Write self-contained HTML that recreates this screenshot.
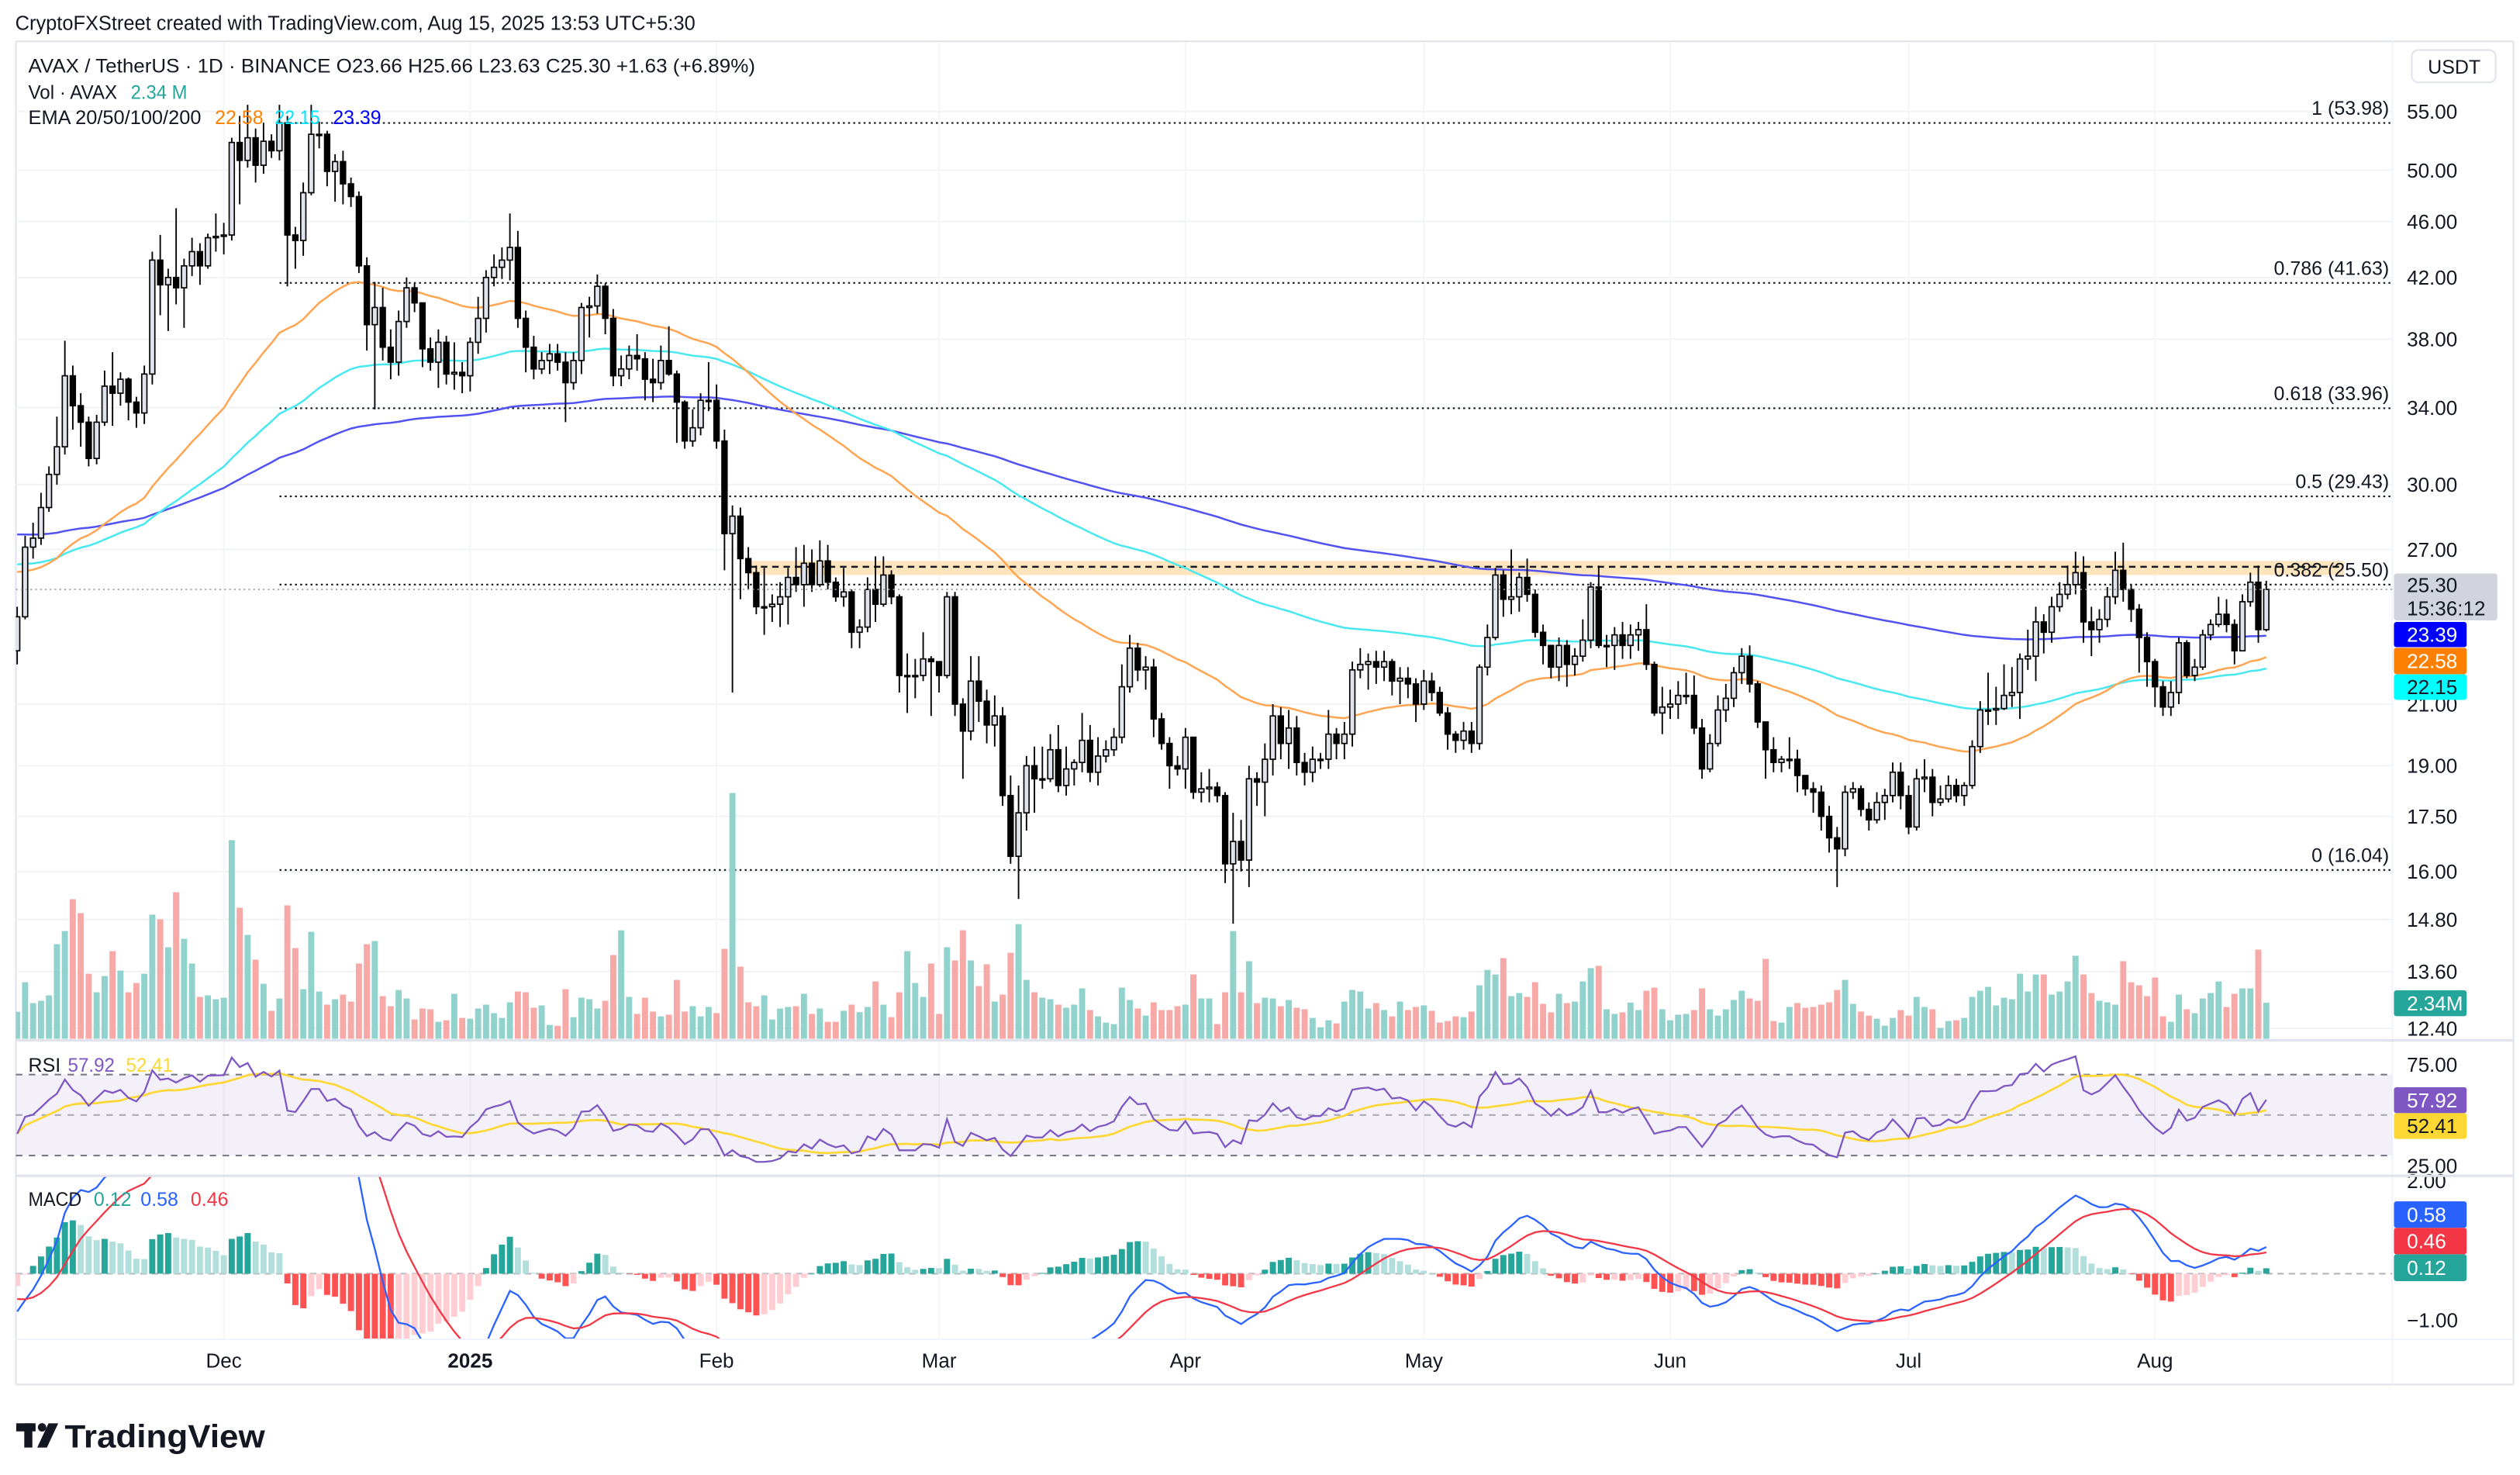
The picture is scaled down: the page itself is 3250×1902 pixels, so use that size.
<!DOCTYPE html>
<html><head><meta charset="utf-8"><title>AVAX / TetherUS chart</title>
<style>
html,body{margin:0;padding:0;background:#fff;}
svg{display:block;font-family:"Liberation Sans",Arial,sans-serif;}
</style></head>
<body>
<svg id="chart" width="3250" height="1902" viewBox="0 0 1560 913" xmlns="http://www.w3.org/2000/svg">
  <defs>
    <clipPath id="clipPrice"><rect x="9.8" y="26" width="1471" height="618"/></clipPath>
    <clipPath id="clipRsi"><rect x="9.8" y="644.5" width="1471" height="83"/></clipPath>
    <clipPath id="clipMacd"><rect x="9.8" y="728.5" width="1471" height="100.5"/></clipPath>
  </defs>
  <rect x="0" y="0" width="1560" height="913" fill="#ffffff"/>
  <text x="9.4" y="18.4" font-size="12.5" fill="#131722" textLength="421" lengthAdjust="spacingAndGlyphs">CryptoFXStreet created with TradingView.com, Aug 15, 2025 13:53 UTC+5:30</text>
  <g fill="none" stroke="#e0e3eb" stroke-width="1">
    <line x1="9.8" y1="25.6" x2="1556" y2="25.6"/>
    <line x1="9.8" y1="25.6" x2="9.8" y2="857"/>
    <line x1="1556" y1="25.6" x2="1556" y2="857"/>
    <line x1="9.8" y1="857" x2="1556" y2="857"/>
    <line x1="1481" y1="25.6" x2="1481" y2="857" stroke="#f0f3fa"/>
  </g>
  <g id="gGrid"></g>
  <g id="gPrice" clip-path="url(#clipPrice)"></g>
  <g id="gRsi" clip-path="url(#clipRsi)"></g>
  <g id="gMacd" clip-path="url(#clipMacd)"></g>
  <g id="gAxis"></g>
  <line x1="9.8" y1="644" x2="1556" y2="644" stroke="#e0e3eb" stroke-width="1.5"/>
  <line x1="9.8" y1="727.8" x2="1556" y2="727.8" stroke="#e0e3eb" stroke-width="1.5"/>
  <line x1="9.8" y1="829" x2="1556" y2="829" stroke="#f0f3fa" stroke-width="1"/>

  <g font-size="12" fill="#131722">
    <text x="17.5" y="44.8" textLength="450" lengthAdjust="spacingAndGlyphs">AVAX / TetherUS · 1D · BINANCE  O23.66  H25.66  L23.63  C25.30  +1.63 (+6.89%)</text>
    <text x="17.5" y="61.3" textLength="55" lengthAdjust="spacingAndGlyphs">Vol · AVAX</text>
    <text x="80.9" y="61.3" fill="#26a69a" textLength="35" lengthAdjust="spacingAndGlyphs">2.34 M</text>
    <text x="17.5" y="76.8" textLength="107" lengthAdjust="spacingAndGlyphs">EMA 20/50/100/200</text>
    <text x="133" y="76.8" fill="#ff8000" textLength="30" lengthAdjust="spacingAndGlyphs">22.58</text>
    <text x="170" y="76.8" fill="#00e5ff" textLength="28" lengthAdjust="spacingAndGlyphs">22.15</text>
    <text x="206" y="76.8" fill="#0000ff" textLength="30" lengthAdjust="spacingAndGlyphs">23.39</text>
  </g>
  <g font-size="12">
    <text x="17.5" y="663.3" fill="#131722">RSI</text>
    <text x="42" y="663.3" fill="#7e57c2" textLength="29" lengthAdjust="spacingAndGlyphs">57.92</text>
    <text x="78" y="663.3" fill="#fdd835" textLength="29" lengthAdjust="spacingAndGlyphs">52.41</text>
  </g>
  <g font-size="12">
    <text x="17.5" y="746.5" fill="#131722" textLength="33" lengthAdjust="spacingAndGlyphs">MACD</text>
    <text x="58" y="746.5" fill="#26a69a">0.12</text>
    <text x="87" y="746.5" fill="#2962ff">0.58</text>
    <text x="118" y="746.5" fill="#f23645">0.46</text>
  </g>
  <g>
    <rect x="1493" y="31" width="52" height="20" rx="4" fill="#ffffff" stroke="#e0e3eb"/>
    <text x="1503" y="45.5" font-size="12" fill="#131722">USDT</text>
  </g>
  <g fill="#131722">
    <rect x="10" y="881" width="12" height="5" />
    <rect x="15" y="881" width="5" height="15" />
    <circle cx="26" cy="883.5" r="2.6"/>
    <polygon points="30,881 36,881 29,896 23,896"/>
    <text x="40" y="896" font-size="20" font-weight="bold" textLength="124" lengthAdjust="spacingAndGlyphs">TradingView</text>
  </g>
</svg>
<script>
// ---------- data ----------
const firstOpen = 22.9;
const closes = [24.2,27.1,27.5,28.9,30.5,31.9,35.8,34.1,33.2,31.3,
33.2,35.2,34.8,35.6,34.3,33.7,35.9,43.2,41.5,42.0,
41.3,42.8,43.8,42.8,44.8,44.9,45.0,52.3,50.8,52.7,
50.4,52.4,51.6,54.0,45.0,44.6,48.2,53.0,53.0,49.9,
50.7,48.9,47.9,42.8,38.9,40.0,37.5,36.6,39.1,41.3,
40.3,37.4,36.6,37.8,35.9,36.0,35.8,37.8,39.3,42.0,
42.7,43.2,44.1,39.3,37.5,36.2,36.7,37.1,36.6,35.4,
36.7,40.0,40.1,41.4,39.3,35.8,36.2,37.0,36.8,35.6,
35.4,36.7,35.9,34.3,32.2,32.9,34.4,34.4,32.2,27.7,
28.5,26.6,26.0,24.6,24.6,24.7,25.0,25.8,25.5,26.4,
25.5,26.5,25.6,25.0,25.2,23.6,23.8,25.3,24.7,25.9,
25.0,22.0,22.0,22.0,22.6,22.5,22.0,25.0,21.0,20.1,
21.8,21.1,20.3,20.6,18.1,16.4,17.6,19.0,18.6,18.6,
19.5,18.4,18.9,19.1,19.8,18.8,19.3,19.5,19.9,21.6,
23.0,22.2,22.3,20.5,19.7,19.0,18.9,19.9,18.2,18.3,
18.35,18.1,16.2,16.8,16.3,18.6,18.5,19.2,20.6,19.7,
20.2,19.1,18.8,19.2,19.2,20.0,19.7,20.0,22.2,22.4,
22.5,22.3,22.5,21.8,21.9,21.7,21.0,21.8,21.4,20.7,
20.0,19.8,20.1,19.7,22.3,23.4,25.9,24.9,25.0,25.8,
25.1,23.6,23.1,22.3,23.1,22.4,22.7,23.3,25.4,23.1,
23.1,23.5,23.1,23.5,23.7,22.4,20.7,20.9,21.0,21.3,
21.3,20.2,18.9,19.7,20.8,21.2,22.1,22.7,21.7,20.4,
19.5,19.1,19.2,19.2,18.7,18.3,18.2,17.5,16.9,16.6,
18.2,18.3,17.7,17.4,17.9,18.1,18.8,18.1,17.2,18.6,
18.65,17.9,18.0,18.4,18.1,18.4,19.6,20.8,20.8,20.85,
21.3,21.4,22.6,22.7,24.0,23.6,24.6,25.1,25.5,26.0,
24.0,23.7,24.1,25.0,26.1,25.3,24.5,23.4,22.5,21.6,
20.9,21.4,23.2,22.0,22.3,23.5,23.9,24.3,23.9,22.9,
24.8,25.6,23.7,25.30];
const highs = [24.6,27.6,28.2,29.6,30.9,33.5,37.9,36.4,34.8,33.5,
33.6,36.1,37.2,36.0,35.7,34.6,36.4,43.8,45.0,42.6,
47.0,43.3,44.8,44.4,45.1,46.6,45.9,52.7,54.6,55.6,
53.5,54.0,53.0,55.6,54.6,45.6,49.0,55.6,54.1,53.3,
51.3,51.6,49.4,48.3,43.4,41.7,41.3,38.6,39.8,42.0,
41.6,40.3,38.1,38.6,38.2,37.8,36.6,38.1,40.7,42.5,
43.6,44.1,46.6,45.3,39.8,38.2,37.2,37.7,37.7,37.2,
37.2,40.3,40.7,42.2,41.6,39.9,37.0,37.6,38.3,37.2,
36.8,37.6,38.8,36.1,34.4,33.9,34.8,36.6,35.3,32.8,
29.0,28.9,27.1,26.3,26.2,25.1,25.6,26.2,27.1,27.2,
27.0,27.4,27.2,25.8,26.2,25.3,24.1,25.8,26.7,26.7,
26.1,25.1,22.8,22.6,23.6,22.7,22.5,25.2,25.2,21.2,
22.7,22.7,21.5,21.3,20.9,18.7,18.4,19.3,19.6,19.6,
20.0,20.3,19.6,19.2,20.7,20.3,19.9,19.8,20.2,22.4,
23.5,23.2,22.7,22.6,20.7,19.9,19.3,20.2,19.9,18.8,
18.9,18.5,18.2,17.6,17.4,19.0,18.8,19.7,21.0,20.9,
20.8,20.6,19.4,19.6,19.4,20.8,20.2,20.4,22.5,23.0,
22.8,22.9,22.9,22.6,22.3,22.3,21.9,22.2,22.1,21.6,
20.9,20.1,20.4,20.4,22.4,23.9,26.2,26.1,27.0,26.0,
26.6,25.3,23.9,23.1,23.4,23.3,23.0,24.1,25.6,26.3,
23.5,23.8,24.0,23.9,24.0,24.7,22.5,21.6,21.5,21.8,
22.1,22.0,20.5,20.0,21.3,21.7,22.3,23.0,23.1,21.8,
20.4,19.9,19.3,19.9,19.5,18.7,18.5,18.4,17.8,17.2,
18.4,18.5,18.4,17.9,18.2,18.3,19.1,19.1,18.4,18.9,
19.2,18.9,18.4,18.7,18.6,18.5,19.8,21.1,22.1,21.6,
22.4,22.3,22.8,23.7,24.6,24.3,25.0,25.6,26.3,26.9,
26.7,24.6,24.5,25.4,26.9,27.3,25.5,24.7,23.6,22.6,
21.8,21.8,23.4,23.3,22.6,23.7,24.1,25.0,24.9,24.1,
25.1,26.0,26.3,25.66];
const lows = [22.4,24.1,26.6,27.2,28.7,30.0,31.5,32.8,31.9,30.9,
31.0,33.0,33.0,34.1,33.3,32.9,33.1,35.3,39.5,38.5,
40.2,38.7,42.1,41.5,42.6,43.8,43.6,44.6,47.3,50.2,
49.0,49.7,51.0,50.8,41.4,42.6,43.5,48.0,51.8,48.7,
47.5,47.3,47.1,42.3,37.3,33.9,36.7,35.6,35.8,38.7,
39.7,36.3,36.1,35.1,35.3,35.0,34.8,34.9,37.1,38.4,
41.4,41.9,41.8,38.7,36.0,35.6,35.9,35.9,36.1,33.2,
35.0,35.9,38.1,39.6,38.3,35.2,35.2,35.6,36.1,34.4,
34.3,35.0,35.8,32.1,31.8,31.9,32.5,33.8,31.8,26.1,
21.4,24.9,25.3,24.3,23.5,24.0,23.8,23.9,25.2,24.6,
25.2,25.4,25.3,24.8,24.6,23.0,23.0,23.6,24.0,24.6,
24.7,21.4,20.7,21.2,21.8,20.6,21.4,21.9,20.6,18.6,
19.8,20.4,19.7,19.6,17.8,16.2,15.3,17.1,17.6,18.3,
18.5,18.2,18.1,18.4,18.8,18.5,18.4,19.1,19.3,19.7,
21.4,21.8,21.5,19.9,19.5,18.3,18.7,18.3,18.0,17.9,
17.9,17.9,15.7,14.7,16.0,15.6,17.8,17.5,18.7,19.2,
18.9,18.7,18.4,18.5,18.9,18.9,19.2,19.2,19.6,21.9,
21.5,21.7,21.8,21.3,21.0,21.2,20.4,20.8,21.1,20.6,
19.5,19.4,19.5,19.4,19.5,22.0,23.3,24.2,24.3,24.4,
24.8,23.4,22.4,21.9,21.8,21.6,22.0,22.5,23.0,23.0,
22.3,22.2,22.6,22.6,22.9,22.2,20.6,20.0,20.5,20.5,
21.0,20.0,18.6,18.8,19.6,20.4,20.9,21.7,21.4,20.2,
18.6,18.8,18.8,18.9,18.2,18.1,17.6,17.1,16.5,15.6,
16.4,18.0,17.5,17.1,17.3,17.4,17.9,17.7,17.0,17.1,
18.2,17.5,17.8,17.9,17.9,17.8,18.3,19.4,20.3,20.3,
20.8,20.9,20.5,22.2,21.8,22.8,23.2,24.4,24.9,25.1,
23.2,22.7,23.2,23.8,24.7,24.8,24.0,22.1,21.6,20.9,
20.6,20.6,21.0,21.9,21.8,22.2,23.3,23.8,23.6,22.4,
22.9,24.6,23.2,23.63];
const volumes = [1.75,3.66,2.31,2.46,2.81,6.12,6.97,9.03,8.13,4.21,
3.01,4.06,5.67,4.41,3.01,3.61,4.21,8.03,7.73,5.92,
9.48,6.47,4.87,2.71,2.81,2.56,2.66,12.85,8.48,6.72,
5.12,3.56,1.81,2.61,8.63,5.87,3.21,6.92,3.06,2.21,
2.56,2.86,2.41,4.87,6.12,6.32,2.76,2.11,3.16,2.61,
1.25,1.96,1.91,1.10,1.20,2.91,1.35,1.30,1.96,2.21,
1.66,1.35,2.36,3.06,3.01,2.01,2.16,0.90,0.84,3.21,
1.40,2.66,2.56,1.96,2.46,5.42,7.02,2.71,1.61,2.66,
1.76,1.45,1.56,3.81,1.76,2.11,1.45,2.06,1.66,5.82,
15.9,4.67,2.36,2.11,2.81,1.25,1.96,2.06,2.11,2.91,
1.61,1.96,1.10,1.10,1.81,2.21,1.72,2.06,3.71,2.21,
1.40,3.01,5.67,3.61,2.71,4.87,1.61,5.92,5.07,7.02,
5.07,3.41,4.82,2.41,2.86,5.57,7.42,3.81,3.01,2.66,
2.56,2.21,2.01,2.21,3.26,1.86,1.45,1.05,0.95,3.31,
2.51,1.96,1.50,2.36,1.86,1.86,2.11,2.21,4.16,2.61,
2.61,0.95,3.01,6.97,3.01,5.02,2.31,2.66,2.61,2.11,
2.51,2.01,1.91,1.35,0.75,1.20,1.00,2.41,3.16,3.06,
1.96,2.31,1.86,1.45,2.41,1.86,2.06,2.16,1.81,1.05,
1.15,1.45,1.40,1.76,3.46,4.46,4.16,5.22,2.76,2.96,
2.71,3.66,2.26,1.71,2.91,2.31,2.41,3.71,4.57,4.72,
1.91,1.61,1.71,2.34,1.86,3.11,3.31,1.91,1.20,1.56,
1.61,1.86,3.26,1.91,1.50,1.91,2.51,3.11,2.61,2.46,
5.17,1.15,1.05,2.06,2.31,2.01,2.06,2.21,2.36,3.16,
3.81,2.26,1.76,1.50,1.30,0.85,1.35,1.86,1.50,2.71,
2.06,1.91,0.70,1.15,1.20,1.35,2.71,3.11,3.36,2.16,
2.66,2.56,4.21,3.06,4.16,4.16,2.86,3.06,3.71,5.37,
4.16,2.96,2.46,2.36,2.21,5.02,3.66,3.46,2.76,3.96,
1.45,1.10,2.86,1.91,1.66,2.61,2.96,3.71,2.06,2.91,
3.26,3.26,5.77,2.34];
const priceTicks = [55,50,46,42,38,34,30,27,21,19,17.5,16,14.8,13.6,12.4];
const fibRatios = ["1","0.786","0.618","0.5","0.382","0"];
const fibPrices = [53.98,41.63,33.96,29.43,25.50,16.04];
const resistanceZone = [25.9, 26.5];
const resistanceLevel = 26.25;
const monthLabels = ["Dec","2025","Feb","Mar","Apr","May","Jun","Jul","Aug"];
const monthDayOffsets = [-31,0,31,59,90,120,151,181,212];
const rsiTicks = [75,25];
const macdTicks = [2,-1];
// indicator warm-up state (values before first visible bar)
const ema50Seed = 26.1, ema100Seed = 26.4, ema200Seed = 27.7;
const rsiGainSeed = 0.55, rsiLossSeed = 0.80;
const ema12Seed = 24.9, ema26Seed = 25.72, signalSeed = -0.48;

// ---------- scales ----------
const NS = 'http://www.w3.org/2000/svg';
const X0 = 10.6, DX = 4.92, JAN1_INDEX = 57;
function xI(i){ return X0 + i*DX; }
function yP(p){ return 69 + 381*Math.log(55/p); }
function yV(v){ return 643 - v*9.57; }
function yR(r){ return 690.2 - (r-50)*1.2525; }
function yM(m){ return 788.4 - m*28.7; }
function mk(tag, attrs, parent){
  const e = document.createElementNS(NS, tag);
  for (const k in attrs) e.setAttribute(k, attrs[k]);
  parent.appendChild(e);
  return e;
}
function f(n){ return n.toFixed(2); }

const gGrid = document.getElementById('gGrid');
const gPrice = document.getElementById('gPrice');
const gRsi = document.getElementById('gRsi');
const gMacd = document.getElementById('gMacd');
const gAxis = document.getElementById('gAxis');

// ---------- indicators ----------
function ema(arr, n, seed){
  const k = 2/(n+1); let prev = seed; const out = [];
  for (let i=0;i<arr.length;i++){ prev = arr[i]*k + prev*(1-k); out.push(prev); }
  return out;
}
const opens = closes.map((c,i)=> i===0 ? firstOpen : closes[i-1]);
const ema50 = ema(closes,50,ema50Seed);
const ema100 = ema(closes,100,ema100Seed);
const ema200 = ema(closes,200,ema200Seed);
const rsi = []; { let ag=rsiGainSeed, al=rsiLossSeed;
  for (let i=0;i<closes.length;i++){
    if (i>0){ const ch=closes[i]-closes[i-1]; ag=(ag*13+Math.max(ch,0))/14; al=(al*13+Math.max(-ch,0))/14; }
    rsi.push(100-100/(1+ag/al));
  } }
const rsiMa = rsi.map((r,i)=>{ const s=Math.max(0,i-13); let t=0; for(let j=s;j<=i;j++) t+=rsi[j]; return t/(i-s+1); });
const e12 = ema(closes,12,ema12Seed), e26 = ema(closes,26,ema26Seed);
const macd = e12.map((v,i)=>v-e26[i]);
const signal = ema(macd,9,signalSeed);
const hist = macd.map((v,i)=>v-signal[i]);

// ---------- grid ----------
priceTicks.forEach(p=>{
  const l = mk('line',{x1:9.8,x2:1481,y1:f(yP(p)),y2:f(yP(p)),stroke:'#f2f3f5','stroke-width':1},gGrid);
  
  
});
monthDayOffsets.forEach(d=>{
  const x = xI(JAN1_INDEX+d);
  const l = mk('line',{x1:f(x),x2:f(x),y1:26,y2:829,stroke:'#f5f6f8','stroke-width':1},gGrid);
  
  
});

// ---------- fib levels & zone ----------
const zone = mk('rect',{x:464,y:f(yP(resistanceZone[1])),width:987,height:f(yP(resistanceZone[0])-yP(resistanceZone[1])),fill:'#ffe0b2','fill-opacity':0.85},gPrice);


const rl = mk('line',{x1:464,x2:1451,y1:f(yP(resistanceLevel)),y2:f(yP(resistanceLevel)),stroke:'#131722','stroke-width':1.2,'stroke-dasharray':'4 3'},gPrice);


fibPrices.forEach((p,k)=>{
  const y = yP(p);
  const l = mk('line',{x1:173,x2:1481,y1:f(y),y2:f(y),stroke:'#131722','stroke-width':1,'stroke-dasharray':'1.2 2'},gPrice);
  
  
  const t = mk('text',{x:1479,y:f(y-5),'text-anchor':'end','font-size':12,fill:'#131722'},gPrice);
  t.textContent = fibRatios[k]+' ('+p.toFixed(2)+')';
  
  
});

// ---------- volume ----------
volumes.forEach((v,i)=>{
  const up = closes[i]>=opens[i];
  const r = mk('rect',{x:f(xI(i)-1.9),y:f(yV(v)),width:3.8,height:f(v*9.57),fill:up?'#92d2cc':'#f7a9a7'},gPrice);
  
  
});

// ---------- EMA lines ----------
function linePath(arr, yfn){ return 'M'+arr.map((v,i)=>f(xI(i))+','+f(yfn(v))).join('L'); }
[[ema200,'#5252f2','ema200-line'],[ema100,'#48e8f0','ema100-line'],[ema50,'#ffa552','ema50-line']].forEach(s=>{
  const p = mk('path',{d:linePath(s[0],yP),fill:'none',stroke:s[1],'stroke-width':1.2},gPrice);
  
  
});

// ---------- candles ----------
closes.forEach((c,i)=>{
  const o=opens[i], up=c>=o;
  const h=Math.max(highs[i],o,c), l=Math.min(lows[i],o,c);
  const g = mk('g',{},gPrice);
  
  
  mk('line',{x1:f(xI(i)),x2:f(xI(i)),y1:f(yP(h)),y2:f(yP(l)),stroke:'#000','stroke-width':0.9},g);
  const top=yP(Math.max(o,c)), bot=yP(Math.min(o,c));
  mk('rect',{x:f(xI(i)-1.6),y:f(top),width:3.2,height:f(Math.max(bot-top,0.8)),fill:up?'#e0e3eb':'#000',stroke:'#000','stroke-width':0.8},g);
});
const lastY = yP(closes[closes.length-1]);
const pl = mk('line',{x1:9.8,x2:1481,y1:f(lastY),y2:f(lastY),stroke:'#9598a1','stroke-width':0.8,'stroke-dasharray':'1 2'},gPrice);



// ---------- RSI ----------
const band = mk('rect',{x:9.8,y:f(yR(70)),width:1471,height:f(yR(30)-yR(70)),fill:'#7e57c2','fill-opacity':0.09},gRsi);


[70,50,30].forEach(v=>{
  const l = mk('line',{x1:9.8,x2:1481,y1:f(yR(v)),y2:f(yR(v)),stroke:'#787b86','stroke-width':1,'stroke-dasharray':'4 4','stroke-opacity':v===50?0.6:1},gRsi);
  
  
});
const rma = mk('path',{d:linePath(rsiMa,yR),fill:'none',stroke:'#fdd835','stroke-width':1.3},gRsi);


const rl2 = mk('path',{d:linePath(rsi,yR),fill:'none',stroke:'#7e57c2','stroke-width':1.1},gRsi);



// ---------- MACD ----------
const zl = mk('line',{x1:9.8,x2:1481,y1:f(yM(0)),y2:f(yM(0)),stroke:'#b2b5be','stroke-width':1,'stroke-dasharray':'4 3'},gMacd);


hist.forEach((h,i)=>{
  const prev = i>0?hist[i-1]:h;
  const col = h>=0 ? (h>=prev?'#26a69a':'#b2dfdb') : (h<prev?'#ff5252':'#ffcdd2');
  const y0=yM(0), y1=yM(h);
  const r = mk('rect',{x:f(xI(i)-1.9),y:f(Math.min(y0,y1)),width:3.8,height:f(Math.max(Math.abs(y1-y0),0.3)),fill:col},gMacd);
  
  
});
const ml = mk('path',{d:linePath(macd,yM),fill:'none',stroke:'#2962ff','stroke-width':1.1},gMacd);


const sl = mk('path',{d:linePath(signal,yM),fill:'none',stroke:'#f23645','stroke-width':1.1},gMacd);



// ---------- axes ----------
priceTicks.forEach(p=>{
  const t = mk('text',{x:1490,y:f(yP(p)+4.5),'font-size':12.5,fill:'#131722'},gAxis);
  t.textContent = p.toFixed(2);
  
  
});
rsiTicks.forEach(v=>{
  const t = mk('text',{x:1490,y:f(yR(v)+4.5),'font-size':12.5,fill:'#131722'},gAxis);
  t.textContent = v.toFixed(2);
  
  
});
macdTicks.forEach(v=>{
  const t = mk('text',{x:1490,y:f(yM(v)+4.5),'font-size':12.5,fill:'#131722'},gAxis);
  t.textContent = (v<0?'\u2212':'')+Math.abs(v).toFixed(2);
  
  
});
monthLabels.forEach((m,k)=>{
  const t = mk('text',{x:f(xI(JAN1_INDEX+monthDayOffsets[k])),y:846.5,'text-anchor':'middle','font-size':12.5,fill:'#131722','font-weight':m==='2025'?'bold':'normal'},gAxis);
  t.textContent = m;
  
  
});

// ---------- value badges ----------
function badge(name, x, y, w, h, bg, fg, lines){
  const g = mk('g',{},gAxis);
  
  
  mk('rect',{x:x,y:y,width:w,height:h,fill:bg,rx:1.5},g);
  lines.forEach((s,k)=>{
    const t = mk('text',{x:x+8,y:(lines.length===1? y+h/2+4.4 : y+11.5+k*14.5),'font-size':12.5,fill:fg},g);
    t.textContent = s;
  });
}
badge('last-price-badge',1482,355,64,29,'#d1d4dc','#131722',['25.30','15:36:12']);
badge('ema200-badge',1482,385,45,15.6,'#0000ff','#ffffff',['23.39']);
badge('ema50-badge',1482,401,45,16.3,'#ff8000','#ffffff',['22.58']);
badge('ema100-badge',1482,417.4,45,15.8,'#00ffff','#131722',['22.15']);
badge('volume-badge',1482,613,45,16,'#26a69a','#ffffff',['2.34M']);
badge('rsi-badge',1482,673,45,16,'#7e57c2','#ffffff',['57.92']);
badge('rsi-ma-badge',1482,689,45,16,'#fdd835','#131722',['52.41']);
badge('macd-line-badge',1482,743.6,45,16.4,'#2962ff','#ffffff',['0.58']);
badge('macd-signal-badge',1482,760,45,16.4,'#f23645','#ffffff',['0.46']);
badge('macd-histogram-badge',1482,776.4,45,16.6,'#26a69a','#ffffff',['0.12']);
</script>
</body></html>
